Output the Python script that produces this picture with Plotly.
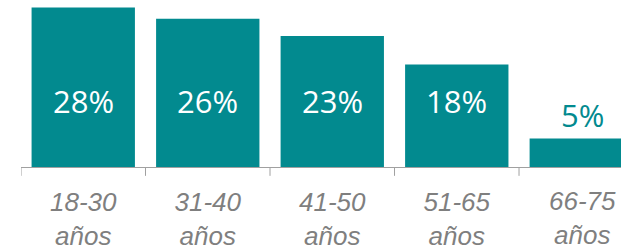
import plotly.graph_objects as go

categories = ["18-30<br>años", "31-40<br>años", "41-50<br>años", "51-65<br>años", "66-75<br>años"]
values = [28, 26, 23, 18, 5]
value_labels = ["28%", "26%", "23%", "18%", "5%"]

TEAL = "#028A8F"
GRAY = "#7F7F7F"
AXIS = "#A0A0A0"


def ital(t):
    return "<i>" + t.replace("<br>", "</i><br><i>") + "</i>"


fig = go.Figure()
fig.add_trace(go.Bar(
    x=list(range(len(categories))),
    y=values,
    marker=dict(color=TEAL, line=dict(width=0)),
    hoverinfo="skip",
))

annotations = []
for i in range(4):
    annotations.append(dict(
        x=i, y=11.5, xref="x", yref="y", text=value_labels[i], showarrow=False,
        font=dict(family="Open Sans", size=31, color="white"),
        xanchor="center", yanchor="middle",
    ))
annotations.append(dict(
    x=0.935, y=values[4], xref="paper", yref="y", text=value_labels[4], showarrow=False,
    font=dict(family="Open Sans", size=31, color=TEAL),
    xanchor="center", yanchor="bottom", yshift=1,
))
annotations.append(dict(
    x=0.935, y=-0.306, xref="paper", yref="paper", text=ital(categories[4]), showarrow=False,
    font=dict(family="Liberation Sans", size=26, color=GRAY),
    xanchor="center", yanchor="middle",
))

fig.update_layout(
    width=621, height=251,
    margin=dict(l=21, r=0, t=0, b=81),
    paper_bgcolor="white", plot_bgcolor="white",
    showlegend=False,
    bargap=0.17,
    annotations=annotations,
    xaxis=dict(
        range=[-0.5, 4.319],
        tickmode="array",
        tickvals=[0, 1, 2, 3],
        ticktext=[ital(c) for c in categories[:4]],
        tickfont=dict(family="Liberation Sans", size=26, color=GRAY),
        ticklabelstandoff=12,
        showline=True, linecolor=AXIS, linewidth=1,
        ticks="", showgrid=False, zeroline=False,
    ),
    yaxis=dict(range=[0, 29.3], visible=False, showgrid=False, zeroline=False),
)

for b in [-0.5, 0.5, 1.5, 2.5, 3.5]:
    fig.add_shape(type="line", xref="x", yref="paper", x0=b, x1=b, y0=0, y1=-9 / 170,
                  line=dict(color=AXIS, width=1))

fig.write_html(
    "out.html",
    config={"displayModeBar": False},
    post_script="document.body.style.margin='0';document.body.style.overflow='hidden';",
)
